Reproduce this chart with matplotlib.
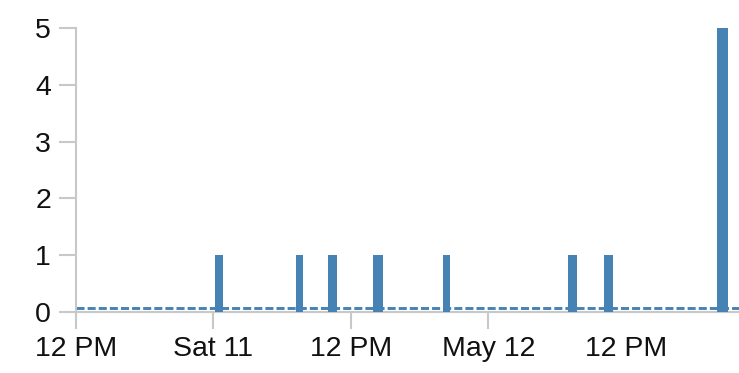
import numpy as np
import pandas as pd
import matplotlib
matplotlib.use('Agg')
import matplotlib.pyplot as plt
import matplotlib.dates as mdates

# event counts per time slot
starts = ['2019-05-11 00:08', '2019-05-11 07:10', '2019-05-11 09:58', '2019-05-11 13:53',
          '2019-05-11 20:00', '2019-05-12 06:56', '2019-05-12 10:05', '2019-05-12 19:55']
durations_min = [40, 39, 50, 56, 38, 47, 47, 59]
counts = [1, 1, 1, 1, 1, 1, 1, 5]

tick_times = ['2019-05-10 12:00', '2019-05-11 00:00', '2019-05-11 12:00',
              '2019-05-12 00:00', '2019-05-12 12:00']
tick_labels = ['12 PM', 'Sat 11', '12 PM', 'May 12', '12 PM']
y_ticks = [0, 1, 2, 3, 4, 5]
baseline = 0.07

domain = ('2019-05-10 12:00', '2019-05-12 21:52')

plt.rcParams['font.family'] = ['Liberation Sans', 'DejaVu Sans']

df = pd.DataFrame({'start': pd.to_datetime(starts),
                   'minutes': durations_min,
                   'count': counts})
df['left'] = mdates.date2num(df['start'])
df['width'] = df['minutes'] / (24 * 60)

fig = plt.figure(figsize=(7.39, 3.73), dpi=100)
ax = fig.add_axes([76 / 739, 61 / 373, 663 / 739, 284 / 373])

bar_color = '#4682b4'
axis_color = '#c8c8c8'

ax.bar(df['left'], df['count'], width=df['width'], align='edge',
       color=bar_color, zorder=3)

# dashed reference line near the floor
lw = 2.1
ax.axhline(baseline, color=bar_color, linewidth=lw, zorder=2,
           dashes=(5.8 / lw, 2.2 / lw))

ax.set_xlim(mdates.date2num(pd.to_datetime(domain[0])),
            mdates.date2num(pd.to_datetime(domain[1])))
ax.set_ylim(0, 5)

ax.set_xticks(mdates.date2num(pd.to_datetime(tick_times)))
ax.set_xticklabels(tick_labels)
ax.set_yticks(y_ticks)

for side in ['top', 'right']:
    ax.spines[side].set_visible(False)
for side in ['left', 'bottom']:
    ax.spines[side].set_color(axis_color)
    ax.spines[side].set_linewidth(1.5)

ax.tick_params(axis='both', colors=axis_color, labelcolor='#111111',
               labelsize=20.5, width=1.5, length=12)
ax.tick_params(axis='x', pad=5)
ax.tick_params(axis='y', pad=6)

# the last time tick has a label only
ax.xaxis.get_major_ticks()[-1].tick1line.set_visible(False)

ax.set_facecolor('white')
fig.patch.set_facecolor('white')

fig.savefig('out.png', dpi=100)
